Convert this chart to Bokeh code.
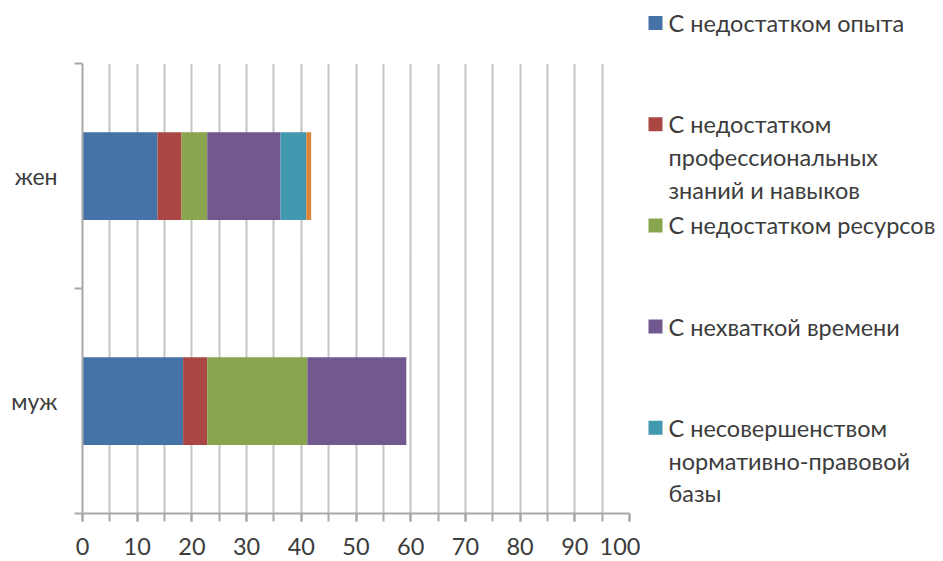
from bokeh.plotting import figure
from bokeh.models import Range1d, FixedTicker, ColumnDataSource
from bokeh.layouts import row
from bokeh.embed import file_html
from bokeh.resources import INLINE
from bokeh.core.properties import value

# ---- data ----
categories = ["муж", "жен"]          # bottom to top
series_names = [
    "С недостатком опыта",
    "С недостатком\nпрофессиональных\nзнаний и навыков",
    "С недостатком ресурсов",
    "С нехваткой времени",
    "С несовершенством\nнормативно-правовой\nбазы",
    "Другое",
]
legend_count = 5
colors = ["#4572A7", "#AA4643", "#89A54E", "#71588F", "#4198AF", "#DB843D"]
# values per series, order follows categories (муж, жен)
s_opyt = [18.4, 13.7]
s_znan = [4.4, 4.4]
s_resurs = [18.3, 4.7]
s_vremya = [18.1, 13.4]
s_norm = [0.0, 4.7]
s_other = [0.0, 0.9]
series_values = [s_opyt, s_znan, s_resurs, s_vremya, s_norm, s_other]
x_tick_labels = [0, 10, 20, 30, 40, 50, 60, 70, 80, 90, 100]
x_minor = list(range(0, 101, 5))

FONT = "Lato"
TXT = "#3c3c3c"
GRID = "#C4C4C4"
AXIS = "#A8A8A8"

ypos = [i + 0.5 for i in range(len(categories))]

p = figure(width=640, height=561, output_backend="svg", toolbar_location=None,
           x_range=Range1d(0, 100), y_range=Range1d(0, len(categories)),
           min_border_left=82, min_border_right=11, min_border_top=63,
           min_border_bottom=48)
p.frame_align = False
p.outline_line_color = None
p.background_fill_color = "white"

left = [0.0] * len(categories)
for vals, col in zip(series_values, colors):
    right = [l + v for l, v in zip(left, vals)]
    src = ColumnDataSource(dict(y=ypos, left=left, right=right))
    p.hbar(y="y", left="left", right="right", height=0.39, source=src,
           fill_color=col, line_color=None)
    left = right

# x axis
p.xaxis.ticker = FixedTicker(ticks=x_tick_labels, minor_ticks=x_minor)
p.xaxis.major_tick_out = 8
p.xaxis.major_tick_in = 0
p.xaxis.minor_tick_out = 8
p.xaxis.minor_tick_in = 0
p.xaxis.axis_line_color = AXIS
p.xaxis.axis_line_width = 2
p.xaxis.major_tick_line_color = AXIS
p.xaxis.minor_tick_line_color = AXIS
p.xaxis.major_tick_line_width = 2
p.xaxis.minor_tick_line_width = 2
p.xaxis.major_label_text_font = FONT
p.xaxis.major_label_text_font_size = "23.5px"
p.xaxis.major_label_text_color = TXT
p.xaxis.major_label_text_line_height = 1.0
p.xaxis.major_label_standoff = 16

# y axis
p.yaxis.ticker = FixedTicker(ticks=ypos, minor_ticks=[0, 1, 2])
p.yaxis.major_label_overrides = {y: c for y, c in zip(ypos, categories)}
p.yaxis.major_tick_out = 0
p.yaxis.major_tick_in = 0
p.yaxis.minor_tick_out = 8
p.yaxis.minor_tick_in = 0
p.yaxis.axis_line_color = AXIS
p.yaxis.axis_line_width = 2
p.yaxis.minor_tick_line_color = AXIS
p.yaxis.minor_tick_line_width = 2
p.yaxis.major_label_text_font = FONT
p.yaxis.major_label_text_font_size = "23px"
p.yaxis.major_label_text_color = TXT
p.yaxis.major_label_standoff = 17

p.xgrid.ticker = FixedTicker(ticks=x_minor)
p.xgrid.grid_line_color = GRID
p.xgrid.grid_line_width = 2
p.ygrid.grid_line_color = None

# ---- legend panel ----
L = figure(width=303, height=561, output_backend="svg", toolbar_location=None,
           x_range=Range1d(0, 303), y_range=Range1d(561, 0),
           min_border=0)
L.frame_align = False
L.axis.visible = False
L.grid.visible = False
L.outline_line_color = None

sq_y = [22.5 + i * 101.2 for i in range(legend_count)]
L.scatter(x=[15] * legend_count, y=sq_y, marker="square", size=14,
          fill_color=colors[:legend_count], line_color=None)
tx, ty, tt = [], [], []
for i in range(legend_count):
    for j, line in enumerate(series_names[i].split("\n")):
        tx.append(28)
        ty.append(sq_y[i] + j * 32.7)
        tt.append(line)
L.text(x=tx, y=ty, text=tt, text_font=value(FONT), text_font_size="23.5px",
       text_color=TXT, text_baseline="middle", text_align="left")

layout = row(p, L)
open("out.html", "w").write(file_html(layout, INLINE))
